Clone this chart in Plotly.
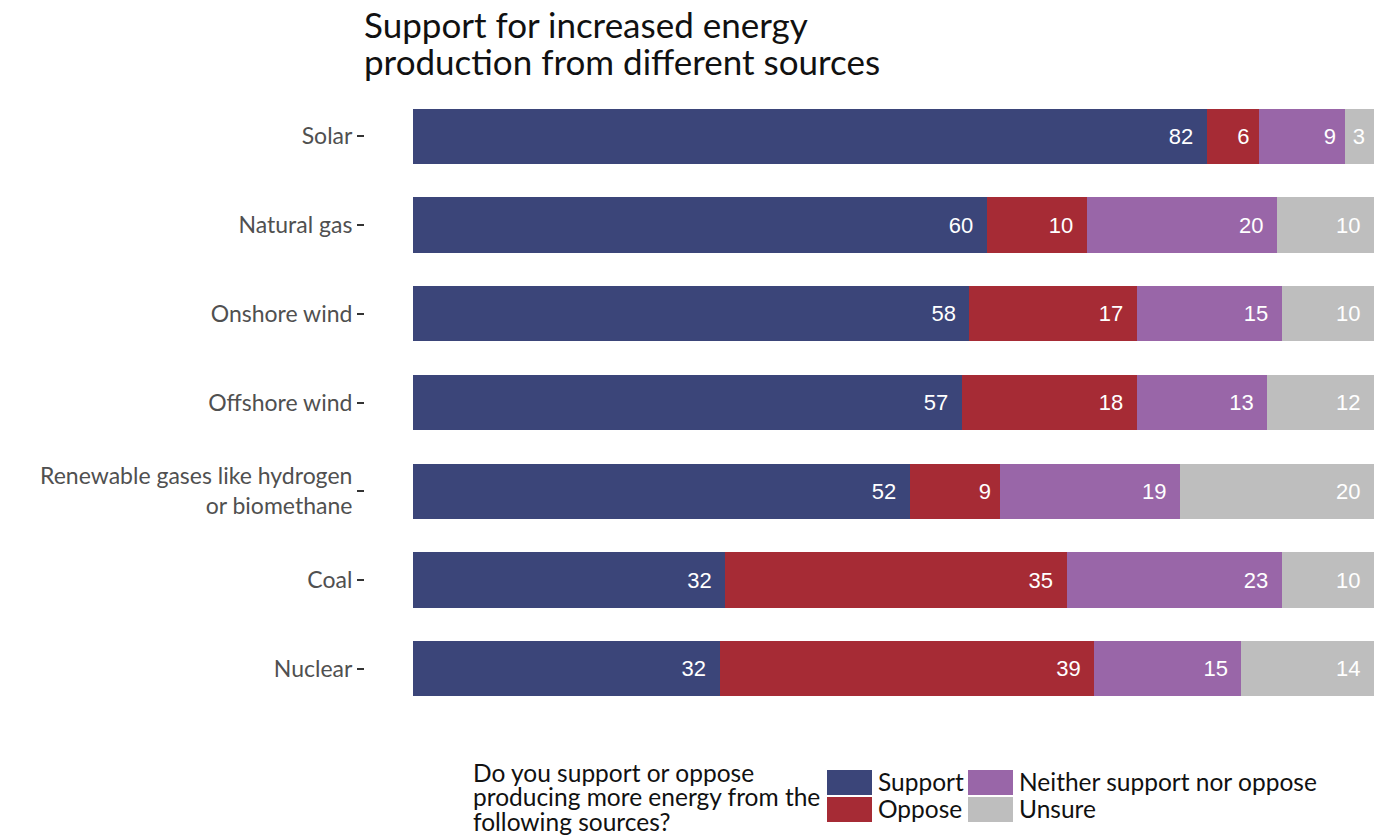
import plotly.graph_objects as go

# ---------------- data ----------------
categories = ["Solar", "Natural gas", "Onshore wind", "Offshore wind",
              "Renewable gases like hydrogen<br>or biomethane", "Coal", "Nuclear"]
series_names = ["Support", "Oppose", "Neither support nor oppose", "Unsure"]

support = [82.6, 59.7, 57.9, 57.1, 51.7, 32.5, 31.9]
oppose = [5.4, 10.4, 17.4, 18.2, 9.4, 35.5, 39.0]
neither = [9.0, 19.8, 15.1, 13.6, 18.7, 22.4, 15.3]
unsure = [3.0, 10.1, 9.6, 11.1, 20.2, 9.6, 13.8]

labels_support = [82, 60, 58, 57, 52, 32, 32]
labels_oppose = [6, 10, 17, 18, 9, 35, 39]
labels_neither = [9, 20, 15, 13, 19, 23, 15]
labels_unsure = [3, 10, 10, 12, 20, 10, 14]

colors = ["#3b4579", "#a62b35", "#9966a8", "#bebebe"]

title_lines = ["Support for increased energy", "production from different sources"]
legend_title_lines = ["Do you support or oppose", "producing more energy from the",
                      "following sources?"]

# ---------------- layout geometry ----------------
W, H = 1374, 838
L, R, T, B = 365, 0, 83, 116
PW, PH = W - L - R, H - T - B


def fx(px):
    return (px - L) / PW


def fy(py):
    return (H - B - py) / PH


def pad(v):
    return str(v) + "\u00a0" + ("\u2009" if v >= 10 else "")


FONT = "Lato, 'Open Sans', sans-serif"
NUMFONT = "'Liberation Sans', Arial, sans-serif"

fig = go.Figure()
values = [support, oppose, neither, unsure]
labels = [labels_support, labels_oppose, labels_neither, labels_unsure]
for name, vals, labs, col in zip(series_names, values, labels, colors):
    fig.add_trace(go.Bar(
        y=categories, x=vals, name=name, orientation="h",
        marker=dict(color=col, line=dict(width=0)),
        text=[pad(v) for v in labs],
        textposition="inside", insidetextanchor="end",
        textangle=0, constraintext="none",
        textfont=dict(color="white", size=22, family=NUMFONT),
        showlegend=False,
    ))

fig.update_layout(
    width=W, height=H,
    margin=dict(l=L, r=R, t=T, b=B, pad=0),
    barmode="stack", bargap=0.38,
    plot_bgcolor="white", paper_bgcolor="white",
    showlegend=False,
    xaxis=dict(range=[-5, 100], showticklabels=False, showgrid=False,
               zeroline=False, showline=False, ticks="", fixedrange=True),
    yaxis=dict(categoryorder="array", categoryarray=categories,
               range=[6.6, -0.6], showgrid=False, zeroline=False, showline=False,
               ticks="outside", ticklen=7, tickwidth=2, tickcolor="#333333",
               ticklabelstandoff=0,
               tickfont=dict(family=FONT, size=23, color="#505050")),
)

annotations = []
# title
for i, line in enumerate(title_lines):
    annotations.append(dict(
        text=line, xref="paper", yref="paper", x=fx(362), y=fy(24 + i * 37),
        xanchor="left", yanchor="middle", showarrow=False,
        font=dict(family=FONT, size=35, color="#111111")))

# legend title
for i, line in enumerate(legend_title_lines):
    annotations.append(dict(
        text=line, xref="paper", yref="paper", x=fx(471), y=fy(772 + i * 24.5),
        xanchor="left", yanchor="middle", showarrow=False,
        font=dict(family=FONT, size=24.5, color="#111111")))

# legend entries (2 x 2 grid, column-major)
shapes = []
col_x = [827, 968]
row_y = [770, 797]
for k, (name, col) in enumerate(zip(series_names, colors)):
    c, r = divmod(k, 2)
    x0 = col_x[c]
    y0 = row_y[r]
    shapes.append(dict(type="rect", xref="paper", yref="paper",
                       x0=fx(x0), x1=fx(x0 + 45), y0=fy(y0), y1=fy(y0 + 25),
                       fillcolor=col, line=dict(width=0)))
    annotations.append(dict(
        text=name, xref="paper", yref="paper", x=fx(x0 + 49), y=fy(y0 + 11),
        xanchor="left", yanchor="middle", showarrow=False,
        font=dict(family=FONT, size=24.5, color="#111111")))

fig.update_layout(annotations=annotations, shapes=shapes)

fig.write_html(
    "out.html",
    config={"displayModeBar": False},
    post_script="document.body.style.margin='0';document.body.style.overflow='hidden';",
)
